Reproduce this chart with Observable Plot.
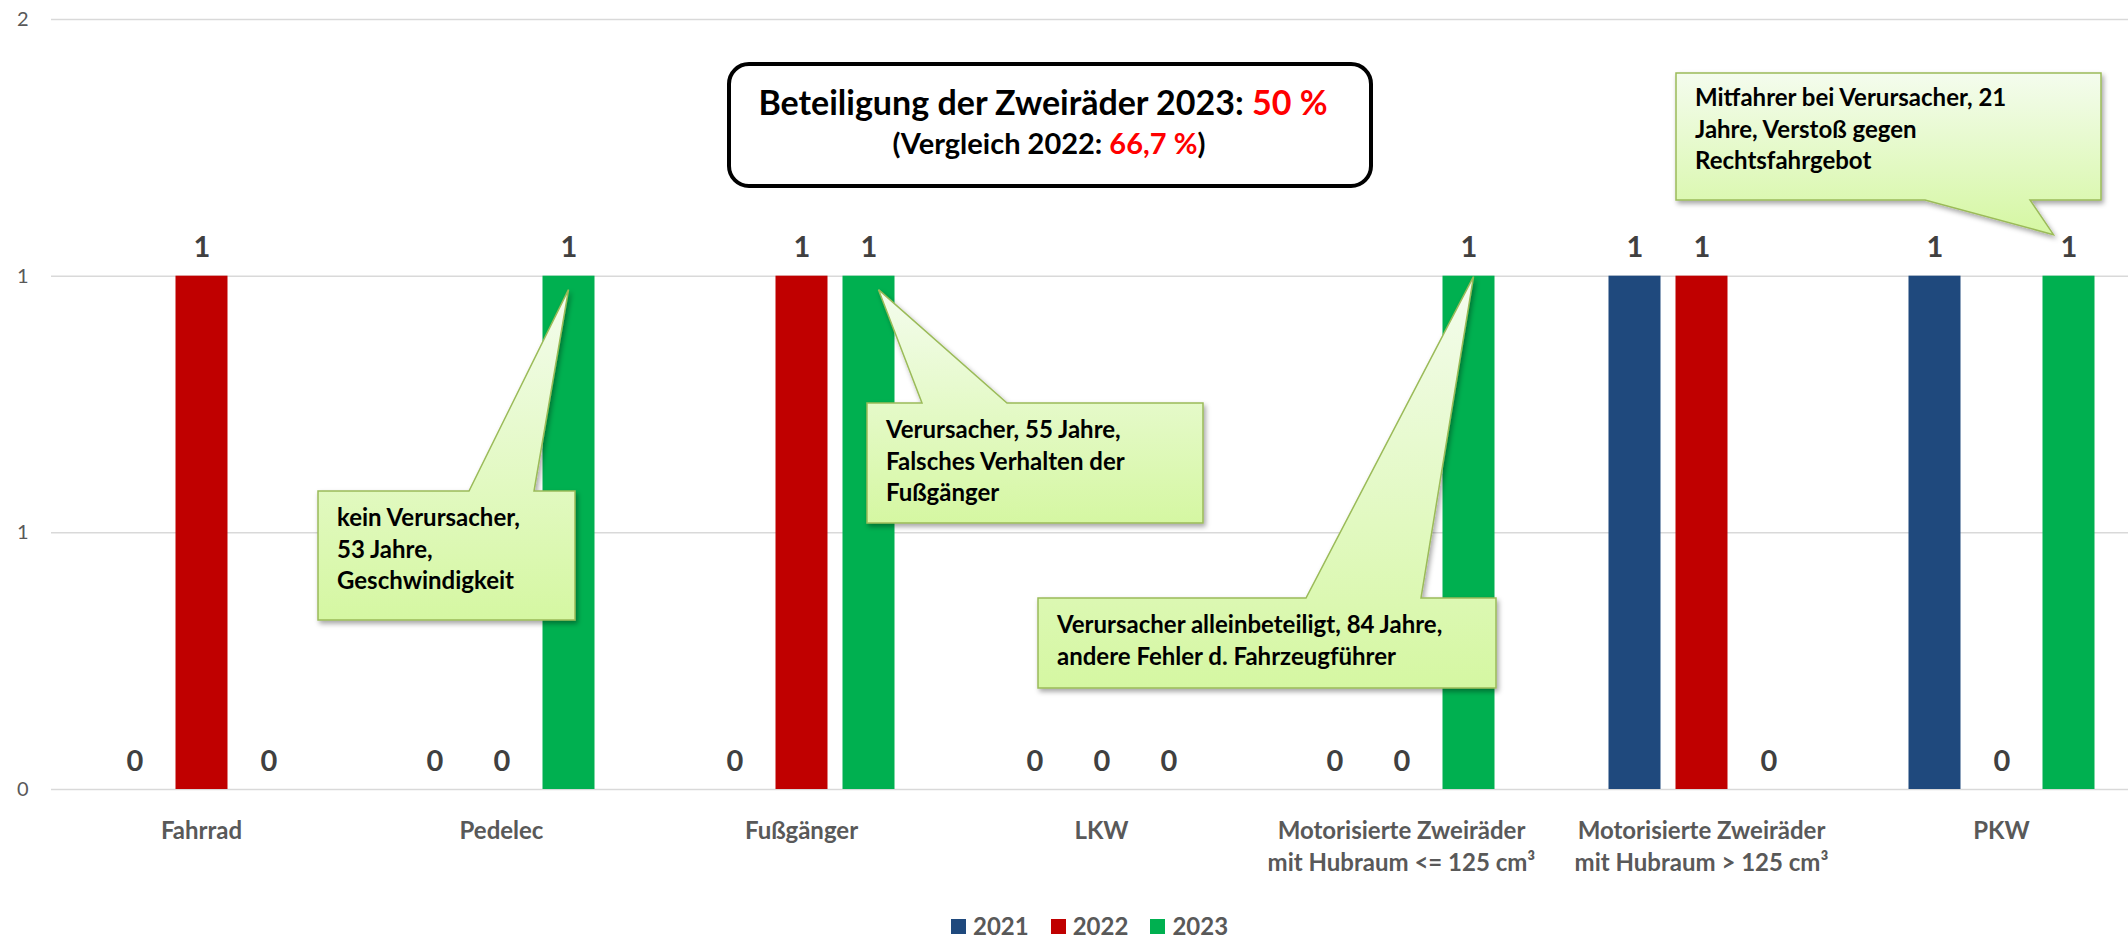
<!DOCTYPE html>
<html>
<head>
<meta charset="utf-8">
<script src="https://cdn.jsdelivr.net/npm/d3@7"></script>
<script src="https://cdn.jsdelivr.net/npm/@observablehq/plot@0.6"></script>
<style>
  html, body { margin: 0; padding: 0; background: #fff; overflow: hidden; }
  #chart svg { display: block; }
  .legend { display: flex; align-items: center; height: 27px; line-height: 27px; padding-left: 951px;
            font-family: Lato, "Open Sans", sans-serif; font-weight: bold; font-size: 24px; color: #595959; }
  .legend .item { display: flex; align-items: center; margin-right: 22px; }
  .legend .sw { width: 15px; height: 15px; margin-right: 7px; margin-top: 2px; }
</style>
</head>
<body>
<div id="chart"></div>
<div class="legend" id="legend"></div>
<script>
// ---------------- data ----------------
const categories = ["Fahrrad", "Pedelec", "Fußgänger", "LKW",
  "Motorisierte Zweiräder mit Hubraum <= 125 cm³",
  "Motorisierte Zweiräder mit Hubraum > 125 cm³", "PKW"];
const categoryLabels = ["Fahrrad", "Pedelec", "Fußgänger", "LKW",
  "Motorisierte Zweiräder\nmit Hubraum <= 125 cm³",
  "Motorisierte Zweiräder\nmit Hubraum > 125 cm³", "PKW"];
const years = [2021, 2022, 2023];
const values2021 = [0, 0, 0, 0, 0, 1, 1];
const values2022 = [1, 0, 1, 0, 0, 1, 0];
const values2023 = [0, 1, 1, 0, 1, 0, 1];
const yearColors = ["#1F497D", "#C00000", "#00B050"];
const yTicks = [0, 0.5, 1, 1.5];
const yTickLabels = ["0", "1", "1", "2"];
const titleLine1 = ["Beteiligung der Zweiräder 2023: ", "50 %"];
const titleLine2 = ["(Vergleich 2022: ", "66,7 %", ")"];
const noteCategories = ["Pedelec", "Fußgänger", "Motorisierte Zweiräder mit Hubraum <= 125 cm³", "PKW"];
const noteTexts = [
  ["kein Verursacher,", "53 Jahre,", "Geschwindigkeit"],
  ["Verursacher, 55 Jahre,", "Falsches Verhalten der", "Fußgänger"],
  ["Verursacher alleinbeteiligt, 84 Jahre,", "andere Fehler d. Fahrzeugführer"],
  ["Mitfahrer bei Verursacher, 21", "Jahre, Verstoß gegen", "Rechtsfahrgebot"]
];

// ---------------- layout (not data) ----------------
const noteLayout = [
  {box: [318, 491, 257, 129], base: [469, 534], tip: [0, 14], edge: "top"},
  {box: [867, 403, 336, 120], base: [922, 1007], tip: [10, 14], edge: "top"},
  {box: [1038, 598, 458, 90], base: [1306, 1421], tip: [5, 1], edge: "top"},
  {box: [1676, 73, 425, 127], base: [1925, 2030], tip: [-15, -41], edge: "bottom"}
];

const seriesValues = [values2021, values2022, values2023];
const rows = [];
categories.forEach((c, i) => years.forEach((y, j) => rows.push({category: c, year: y, value: seriesValues[j][i]})));

const FONT = "Lato, 'Open Sans', sans-serif";

const chart = Plot.plot({
  width: 2128,
  height: 912,
  marginLeft: 50.5,
  marginRight: -22.5,
  marginTop: 19,
  marginBottom: 123,
  style: {fontFamily: FONT, fontSize: "20px", color: "#595959", background: "transparent", overflow: "hidden"},
  fx: {domain: categories, padding: 0, axis: null},
  x: {domain: years, paddingInner: 0.2239, paddingOuter: 0.8507, axis: null},
  y: {domain: [0, 1.5], ticks: yTicks, tickFormat: d => yTickLabels[yTicks.indexOf(d)], tickSize: 0, tickPadding: 23, label: null},
  color: {type: "ordinal", domain: years, range: yearColors},
  marks: [
    Plot.ruleY(yTicks, {stroke: "#D9D9D9", strokeWidth: 1.5}),
    Plot.barY(rows, {fx: "category", x: "year", y: "value", fill: "year"}),
    Plot.text(rows, {fx: "category", x: "year", y: "value", text: d => String(d.value),
      dy: -28, fontSize: 29, fontWeight: "bold", fill: "#404040"}),
    Plot.text(categories, {fx: d => d, text: (d, i) => categoryLabels[i], frameAnchor: "bottom",
      lineAnchor: "top", dy: 27, fontSize: 24, fontWeight: "bold", fill: "#595959", lineHeight: 1.33})
  ]
});
document.getElementById("chart").appendChild(chart);

// ---------------- annotations ----------------
const svg = d3.select(chart);
const fxS = chart.scale("fx"), xS = chart.scale("x"), yS = chart.scale("y");
const defs = svg.append("defs");
const grad = defs.append("linearGradient").attr("id", "calloutFill").attr("x1", 0).attr("y1", 0).attr("x2", 0).attr("y2", 1);
grad.append("stop").attr("offset", "0%").attr("stop-color", "#F4FCEE");
grad.append("stop").attr("offset", "100%").attr("stop-color", "#D5F7A2");
const filt = defs.append("filter").attr("id", "shadow").attr("x", "-10%").attr("y", "-10%").attr("width", "130%").attr("height", "130%");
filt.append("feDropShadow").attr("dx", 2).attr("dy", 3).attr("stdDeviation", 2.5).attr("flood-color", "#000").attr("flood-opacity", 0.35);

const g = svg.append("g").attr("text-anchor", "start");
noteCategories.forEach((cat, i) => {
  const L = noteLayout[i];
  const xMin = Math.min(...xS.range);
  const barCx = fxS.apply(cat) + (xS.apply(2023) - xMin) + xS.bandwidth / 2;
  const barTop = yS.apply(1);
  const tx = barCx + L.tip[0], ty = barTop + L.tip[1];
  const [bx, by, bw, bh] = L.box;
  const [b1, b2] = L.base;
  let d;
  if (L.edge === "top") {
    d = `M${bx},${by}L${b1},${by}L${tx},${ty}L${b2},${by}L${bx + bw},${by}L${bx + bw},${by + bh}L${bx},${by + bh}Z`;
  } else {
    d = `M${bx},${by}L${bx + bw},${by}L${bx + bw},${by + bh}L${b2},${by + bh}L${tx},${ty}L${b1},${by + bh}L${bx},${by + bh}Z`;
  }
  g.append("path").attr("d", d).attr("fill", "url(#calloutFill)").attr("stroke", "#9BBB59")
    .attr("stroke-width", 1.5).attr("filter", "url(#shadow)");
  const firstBase = L.edge === "top" ? 35 : 33;
  noteTexts[i].forEach((line, k) => {
    g.append("text").attr("x", bx + 19).attr("y", by + firstBase + k * 31.5)
      .attr("text-anchor", "start")
      .attr("font-family", FONT).attr("font-weight", "bold").attr("font-size", 24)
      .attr("fill", "#000").text(line);
  });
});

// title box
const tb = svg.append("g");
tb.append("rect").attr("x", 729).attr("y", 64).attr("width", 642).attr("height", 122).attr("rx", 20)
  .attr("fill", "#fff").attr("stroke", "#000").attr("stroke-width", 4);
const t1 = tb.append("text").attr("x", 1043).attr("y", 115).attr("text-anchor", "middle")
  .attr("font-family", FONT).attr("font-weight", "bold").attr("font-size", 34);
t1.append("tspan").attr("fill", "#000").text(titleLine1[0]);
t1.append("tspan").attr("fill", "#FF0000").text(titleLine1[1]);
const t2 = tb.append("text").attr("x", 1049).attr("y", 154).attr("text-anchor", "middle")
  .attr("font-family", FONT).attr("font-weight", "bold").attr("font-size", 29);
t2.append("tspan").attr("fill", "#000").text(titleLine2[0]);
t2.append("tspan").attr("fill", "#FF0000").text(titleLine2[1]);
t2.append("tspan").attr("fill", "#000").text(titleLine2[2]);

// legend
const leg = document.getElementById("legend");
years.forEach((y, i) => {
  const it = document.createElement("div"); it.className = "item";
  const sw = document.createElement("div"); sw.className = "sw"; sw.style.background = yearColors[i];
  const tx = document.createElement("span"); tx.textContent = String(y);
  it.appendChild(sw); it.appendChild(tx); leg.appendChild(it);
});
</script>
</body>
</html>
